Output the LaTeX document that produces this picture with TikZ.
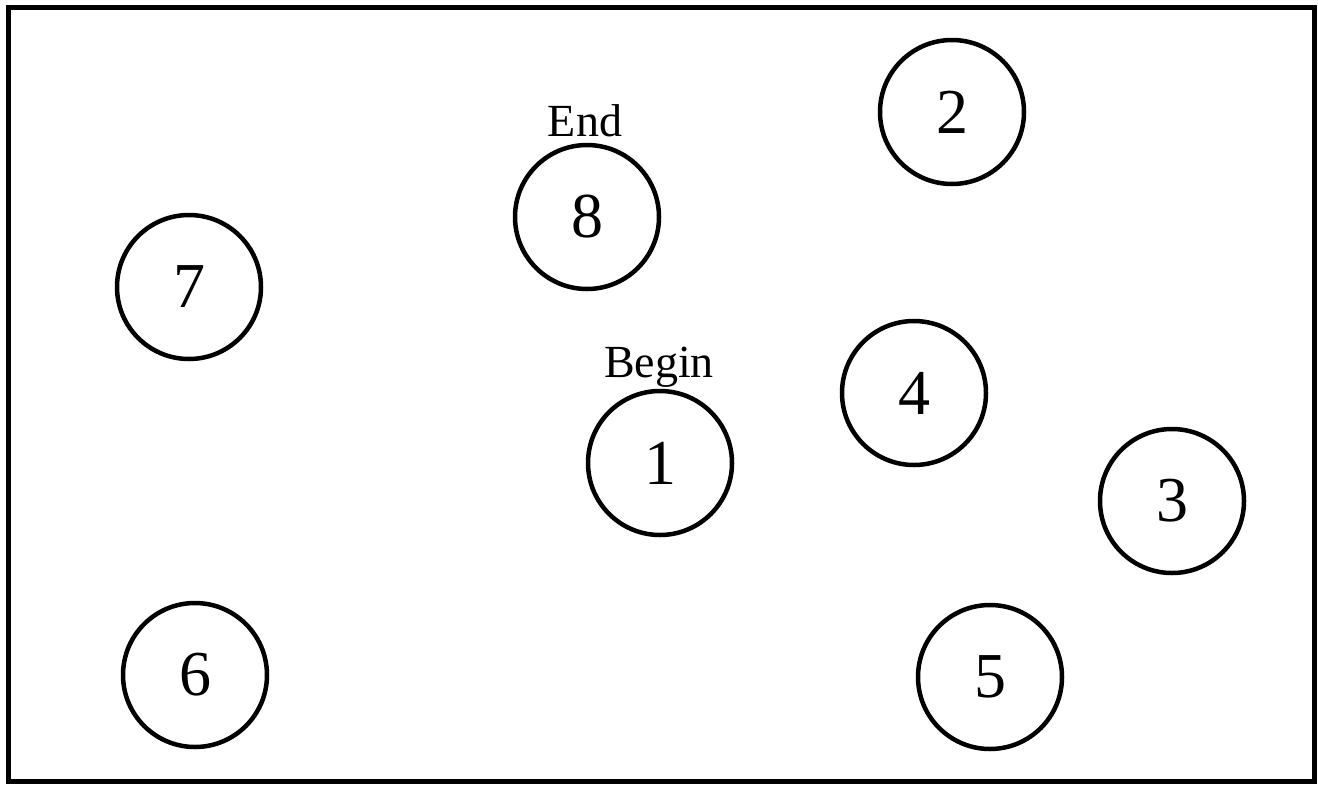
\documentclass[tikz,border=0pt]{standalone}
\usepackage{fontspec}
\setmainfont{Liberation Serif}
\begin{document}
\begin{tikzpicture}[x=1pt,y=-1pt,
  state/.style={draw,circle,line width=4.5pt,minimum size=144pt,inner sep=0pt,font=\fontsize{64}{64}\selectfont},
  lbl/.style={font=\fontsize{46}{46}\selectfont,inner sep=0pt}]
\useasboundingbox (0,0) rectangle (1318,785);
\draw[line width=5pt] (8,7) rectangle (1314,781);
\node[state] (n2) at (952,112) {2};
\node[state] (n8) at (587,217) {8};
\node[state] (n7) at (189,287) {7};
\node[state] (n4) at (914,393) {4};
\node[state] (n1) at (660,463) {1};
\node[state] (n3) at (1172,501) {3};
\node[state] (n6) at (195,675) {6};
\node[state] (n5) at (990,677) {5};
\node[lbl] (lend) at (585,121) {End};
\node[lbl] (lbegin) at (659,367) {Begin};
\end{tikzpicture}
\end{document}
